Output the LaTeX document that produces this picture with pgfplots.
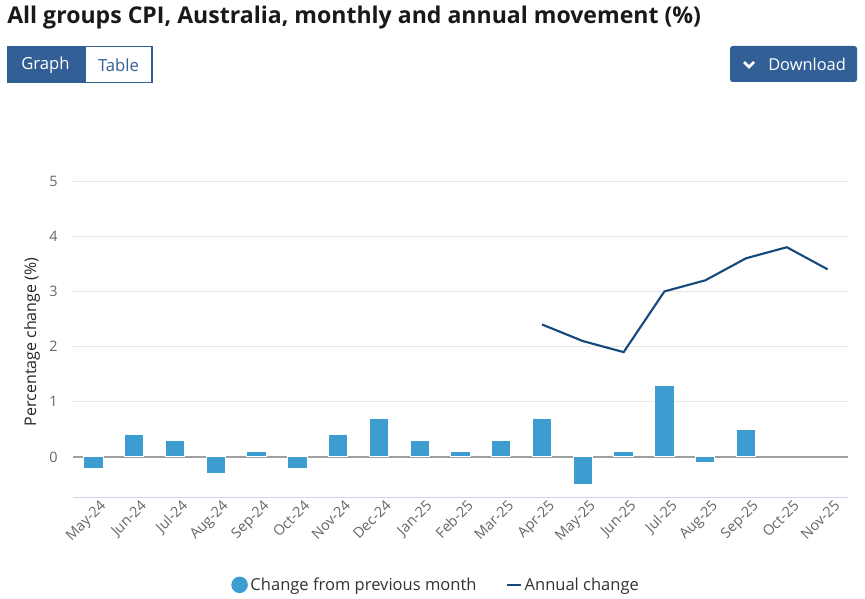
\documentclass[border=0pt]{standalone}
\usepackage{pgfplots}
\pgfplotsset{compat=1.18}
\usepackage{fontspec}
\setmainfont{Open Sans}
\definecolor{barblue}{RGB}{61,157,209}
\definecolor{linenavy}{RGB}{23,74,124}
\definecolor{btn}{RGB}{50,96,150}
\definecolor{gridc}{RGB}{230,230,230}
\definecolor{axc}{RGB}{204,214,235}
\definecolor{tickc}{RGB}{102,102,102}
\definecolor{zeroc}{RGB}{160,160,160}
\begin{document}
\begin{tikzpicture}
\begin{scope}[x=0.75pt,y=-0.75pt]
\useasboundingbox (0,0) rectangle (865,599);
% title
\node[anchor=base west,inner sep=0pt,font=\fontsize{17.3}{20}\selectfont\bfseries,text=black!90] at (7,24) {All groups CPI, Australia, monthly and annual movement (\%)};
% buttons
\fill[btn] (7,46) rectangle (85,83);
\draw[btn,line width=1.2pt,fill=white] (85,46.5) rectangle (152,82.5);
\node[text=white,font=\fontsize{12.5}{15}\selectfont] at (45.5,65) {Graph};
\node[text=btn,font=\fontsize{12.5}{15}\selectfont] at (118.5,65) {Table};
\fill[btn,rounded corners=2pt] (730,46) rectangle (857,82);
\draw[white,line width=2pt] (744,62) -- (749,67) -- (754,62);
\node[text=white,font=\fontsize{12.3}{15}\selectfont,anchor=west,inner sep=0pt] at (768,64.5) {Download};
% y label
\node[rotate=90,text=black!85,font=\fontsize{12}{14}\selectfont] at (32,342) {Percentage change (\%)};
\end{scope}
\begin{axis}[
  at={(54.75pt,-372.75pt)}, anchor=south west,
  scale only axis, width=581.25pt, height=237pt,
  xmin=-0.5, xmax=18.5, ymin=-0.725, ymax=5,
  xtick={0,...,18},
  xticklabels={May-24,Jun-24,Jul-24,Aug-24,Sep-24,Oct-24,Nov-24,Dec-24,Jan-25,Feb-25,Mar-25,Apr-25,May-25,Jun-25,Jul-25,Aug-25,Sep-25,Oct-25,Nov-25},
  ytick={0,1,2,3,4,5},
  /pgf/number format/assume math mode=true,
  tick label style={font=\fontsize{10.8}{13}\selectfont, text=tickc},
  x tick label style={rotate=45, anchor=north east, inner sep=1pt, yshift=-3pt, xshift=3pt},
  y tick label style={xshift=-8pt},
  major tick length=0pt,
  axis line style={draw=none},
  axis x line*=bottom,
  axis y line*=left,
  ymajorgrids, grid style={gridc, line width=0.75pt},
  clip=false,
  legend columns=2,
  legend style={at={(0.469,-0.278)}, anchor=center, draw=none, fill=none,
    font=\fontsize{12.4}{15}\selectfont, text=black!80,
    /tikz/every even column/.append style={column sep=20pt}},
]
\draw[axc, line width=0.75pt] (rel axis cs:0,0) -- (rel axis cs:1,0);
\draw[zeroc, line width=1.5pt] (axis cs:-0.5,0) -- (axis cs:18.5,0);
\addplot[ybar, bar width=14.5pt, fill=barblue, draw=white, line width=0.75pt,
  legend image code/.code={\fill[barblue] (0.3em,0) circle (5.8pt);}]
coordinates {
  (0,-0.2) (1,0.4) (2,0.3) (3,-0.3) (4,0.1) (5,-0.2) (6,0.4) (7,0.7) (8,0.3)
  (9,0.1) (10,0.3) (11,0.7) (12,-0.5) (13,0.1) (14,1.3) (15,-0.1) (16,0.5)
};
\addlegendentry{Change from previous month}
\addplot[linenavy, line width=1.6pt, mark=none,
  legend image code/.code={\draw[linenavy,line width=1.6pt] (0,0) -- (10.5pt,0);}]
coordinates {
  (11,2.4) (12,2.1) (13,1.9) (14,3.0) (15,3.2) (16,3.6) (17,3.8) (18,3.4)
};
\addlegendentry{Annual change}
\end{axis}
\end{tikzpicture}
\end{document}
